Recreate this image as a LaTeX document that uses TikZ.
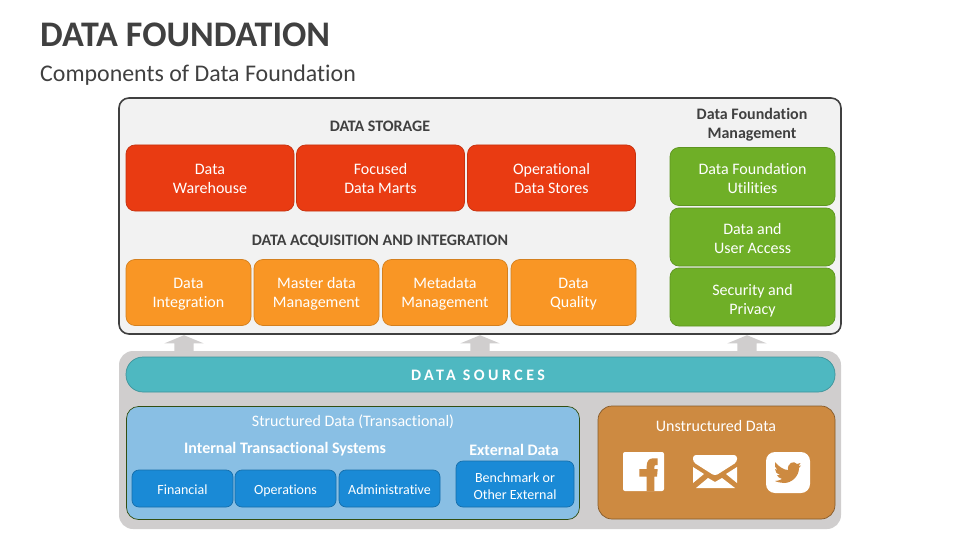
\documentclass[tikz,border=0pt]{standalone}
\usepackage{fontspec}
\setmainfont[Ligatures=NoCommon]{Carlito}
\usetikzlibrary{shapes.arrows}
\definecolor{panelgray}{HTML}{F2F2F2}
\definecolor{panelline}{HTML}{404040}
\definecolor{sourcegray}{HTML}{D0CECE}
\definecolor{storagered}{HTML}{E93B12}
\definecolor{acquireorange}{HTML}{F99625}
\definecolor{managegreen}{HTML}{6FAF27}
\definecolor{sourceteal}{HTML}{4EB8C1}
\definecolor{structblue}{HTML}{89BFE4}
\definecolor{systemblue}{HTML}{1A8AD6}
\definecolor{unstructbrown}{HTML}{CD8A41}
\newcommand{\dropby}[1]{\rule{0pt}{#1}}
\tikzset{
	box/.style={draw,rounded corners=9pt,line width=0.7pt,inner sep=0pt,align=center,text=white,
		font=\fontsize{16}{19}\selectfont},
	redbox/.style={box,fill=storagered,draw=storagered!85!black,minimum width=168pt,minimum height=66pt},
	orangebox/.style={box,fill=acquireorange,draw=acquireorange!85!black,minimum width=125pt,minimum height=66pt},
	greenbox/.style={box,fill=managegreen,draw=managegreen!85!black,minimum width=165pt,minimum height=58pt},
	bluebox/.style={box,fill=systemblue,draw=systemblue!80!black,rounded corners=7pt,minimum height=37pt,
		font=\fontsize{14}{17}\selectfont},
	heading/.style={inner sep=0pt,align=center,text=panelline,font=\fontsize{16}{19}\selectfont\bfseries},
	whitetext/.style={inner sep=0pt,align=center,text=white},
	uparrow/.style={single arrow,anchor=tip,fill=sourcegray,draw=none,shape border rotate=90,inner sep=9.5pt,
		single arrow head extend=10pt,single arrow tip angle=135}
}
\begin{document}
\begin{tikzpicture}[x=1pt,y=-1pt]
	\useasboundingbox (0,0) rectangle (960,540);
	\node[anchor=west,inner sep=0pt,text=panelline,font=\fontsize{36}{40}\selectfont\bfseries] (title) at (40,35) {DATA FOUNDATION};
	\node[anchor=west,inner sep=0pt,text=panelline,font=\fontsize{23.9}{26}\selectfont] (subtitle) at (40,75.5) {Components of Data Foundation};
	% top panel
	\node[draw=panelline,fill=panelgray,line width=1.6pt,rounded corners=10pt,minimum width=722pt,minimum height=236pt] (toppanel) at (480,216) {};
	\node[heading] (storage) at (380,126) {DATA STORAGE};
	\node[redbox] (warehouse) at (210,178) {\dropby{12.5pt}Data\\Warehouse};
	\node[redbox] (marts) at (380.5,178) {\dropby{12.5pt}Focused\\Data Marts};
	\node[redbox] (stores) at (551.5,178) {\dropby{12.5pt}Operational\\Data Stores};
	\node[heading] (acquisition) at (380,241.5) {DATA ACQUISITION AND INTEGRATION};
	\node[orangebox] (integration) at (188.5,292.5) {\dropby{14.5pt}Data\\Integration};
	\node[orangebox] (master) at (316.5,292.5) {\dropby{14.5pt}Master data\\Management};
	\node[orangebox] (metadata) at (445,292.5) {\dropby{14.5pt}Metadata\\Management};
	\node[orangebox] (quality) at (573.5,292.5) {\dropby{14.5pt}Data\\Quality};
	\node[heading] (management) at (752,124) {\dropby{12.5pt}Data Foundation\\Management};
	\node[greenbox] (utilities) at (752.5,176.5) {\dropby{14.5pt}Data Foundation\\Utilities};
	\node[greenbox] (access) at (752.5,237) {\dropby{14.5pt}Data and\\User Access};
	\node[greenbox] (security) at (752.5,297) {\dropby{18.5pt}Security and\\Privacy};
	% sources
	\node[uparrow] (arrowa) at (184,335) {};
	\node[uparrow] (arrowb) at (480,335) {};
	\node[uparrow] (arrowc) at (747,335) {};
	\node[fill=sourcegray,rounded corners=14pt,minimum width=722pt,minimum height=178pt] (sourcepanel) at (480,440) {};
	\node[box,fill=sourceteal,draw=sourceteal!80!black,rounded corners=17pt,minimum width=709pt,minimum height=35pt,
		font=\fontsize{16}{18}\selectfont\bfseries\addfontfeature{LetterSpace=21.5}] (sources) at (480.5,374.5) {\dropby{12.5pt}DATA SOURCES\hspace{5pt}};
	\node[box,fill=structblue,draw=managegreen!45!black,rounded corners=12pt,minimum width=453pt,minimum height=113pt] (structured) at (353,463) {};
	\node[whitetext,font=\fontsize{16}{19}\selectfont] (structlabel) at (353,421.5) {Structured Data (Transactional)};
	\node[whitetext,font=\fontsize{16}{19}\selectfont\bfseries] (internal) at (285,449.5) {Internal Transactional Systems};
	\node[whitetext,font=\fontsize{16}{19}\selectfont\bfseries] (external) at (514,449.5) {External Data};
	\node[bluebox,minimum width=101pt] (financial) at (182.5,488.5) {\dropby{11.5pt}Financial};
	\node[bluebox,minimum width=101pt] (operations) at (285.5,488.5) {\dropby{13.5pt}Operations};
	\node[bluebox,minimum width=101pt] (admin) at (389.5,488.5) {\dropby{11.5pt}Administrative};
	\node[bluebox,minimum width=118pt,minimum height=46pt] (benchmark) at (515,484) {\dropby{13.5pt}Benchmark or\\Other External};
	\node[box,fill=unstructbrown,draw=unstructbrown!65!black,rounded corners=14pt,minimum width=237pt,minimum height=113pt] (unstructured) at (716.5,462.5) {};
	\node[whitetext,font=\fontsize{16}{19}\selectfont] (unstructlabel) at (716,426) {Unstructured Data};
	% icons
	\fill[white,rounded corners=2pt] (623,452) rectangle (664,491);
	\fill[unstructbrown] (657.7,458.3) -- (653,458.3) .. controls (648.5,458.3) and (646.7,462) .. (646.7,466) -- (646.7,469) -- (639.3,469) -- (639.3,476.7) -- (646.7,476.7) -- (646.7,491) -- (654.3,491) -- (654.3,476.7) -- (657,476.7) -- (657.7,469) -- (654.3,469) -- (654.3,467) .. controls (654.3,465.5) and (655,465) .. (656,465) -- (657.7,465) -- cycle;
	\fill[white,rounded corners=3pt] (693,455) -- (737,455) -- (737,462) -- (715,476) -- (693,462) -- cycle;
	\fill[white] (693,467) -- (704,474) -- (693,483) -- cycle;
	\fill[white] (737,467) -- (726,474) -- (737,483) -- cycle;
	\fill[white] (696,488) -- (708,478) -- (715,482) -- (722,478) -- (735,488) -- cycle;
	\fill[white,rounded corners=9pt] (766,452) rectangle (810,493);
	\fill[unstructbrown] (775,462) .. controls (779,467) and (784,470) .. (788,470) .. controls (787,463) and (794,460) .. (797,464) -- (800.5,463) -- (798.5,466) -- (801,465.5) -- (799,468) .. controls (799,476) and (792,483) .. (784,483) .. controls (781,483) and (777,482) .. (775,481) .. controls (778,481) and (780,480) .. (782,479) .. controls (779,478) and (778,477) .. (777,475) -- (780,475) .. controls (777,474) and (775,472) .. (775,469) -- (778,470) .. controls (775,468) and (774,465) .. (775,462) -- cycle;
\end{tikzpicture}
\end{document}
